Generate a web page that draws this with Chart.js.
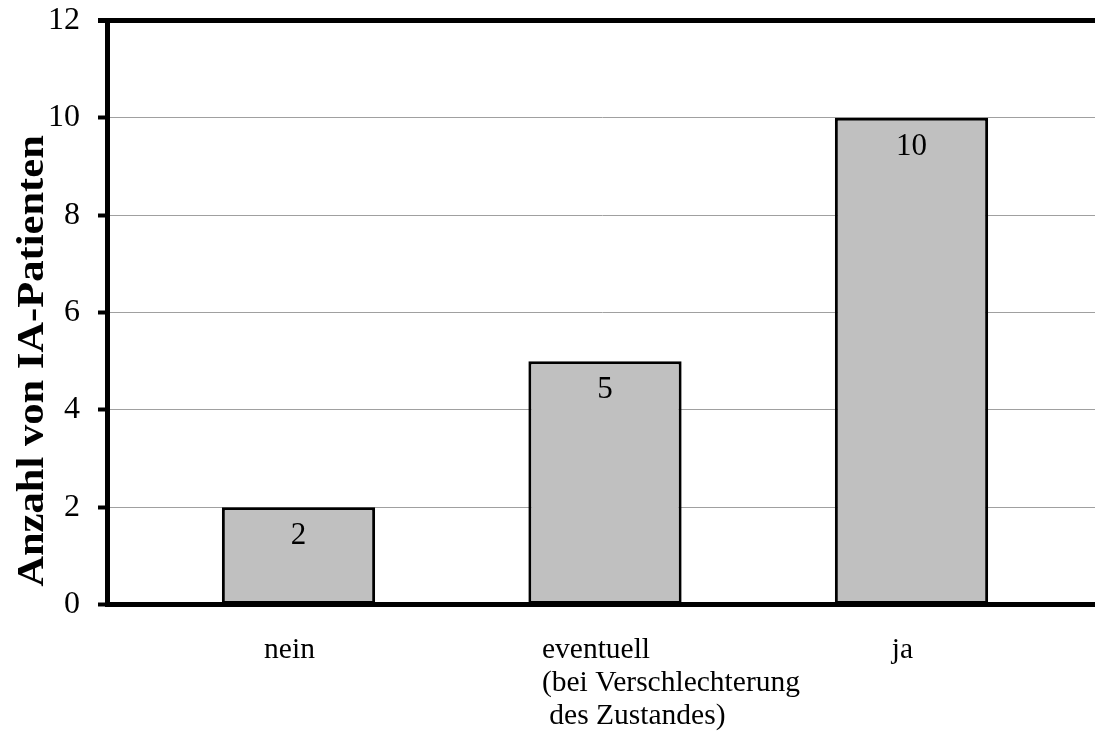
<!DOCTYPE html>
<html>
<head>
<meta charset="utf-8">
<script src="https://cdn.jsdelivr.net/npm/chart.js@4.4.1/dist/chart.umd.min.js"></script>
<style>
  html, body { margin: 0; padding: 0; background: #fff; overflow: hidden; }
  #wrap { width: 1095px; height: 731px; }
</style>
</head>
<body>
<div id="wrap"><canvas id="c" width="1095" height="731"></canvas></div>
<script>
// Category labels (one entry per line of text)
const categories = [
  ['nein'],
  ['eventuell', '(bei Verschlechterung', ' des Zustandes)'],
  ['ja']
];
// Number of patients per answer
const patientCounts = [2, 5, 10];
// Value axis ticks
const yTicks = [0, 2, 4, 6, 8, 10, 12];
const yTitle = 'Anzahl von IA-Patienten';

const FONT = "'Liberation Serif', 'Times New Roman', Times, serif";

const points = patientCounts.map((v, i) => ({ x: i, y: v }));

// Number printed just below the top edge of every bar
const barValueLabels = {
  id: 'barValueLabels',
  afterDatasetsDraw(chart) {
    const { ctx } = chart;
    const meta = chart.getDatasetMeta(0);
    ctx.save();
    ctx.font = `31px ${FONT}`;
    ctx.fillStyle = '#000';
    ctx.textAlign = 'center';
    ctx.textBaseline = 'middle';
    meta.data.forEach((bar, i) => {
      ctx.fillText(String(patientCounts[i]), bar.x, bar.y + 29);
    });
    ctx.restore();
  }
};

// Category names under the axis; extra lines are left-aligned to the first one
const categoryLabels = {
  id: 'categoryLabels',
  afterDraw(chart) {
    const { ctx, chartArea } = chart;
    const xs = chart.scales.x;
    ctx.save();
    ctx.font = `29.5px ${FONT}`;
    ctx.fillStyle = '#000';
    ctx.textAlign = 'left';
    ctx.textBaseline = 'alphabetic';
    categories.forEach((lines, i) => {
      const cx = xs.getPixelForValue(i) - 9;
      const left = cx - ctx.measureText(lines[0]).width / 2;
      lines.forEach((line, k) => {
        ctx.fillText(line, left, chartArea.bottom + 53.5 + k * 33);
      });
    });
    ctx.restore();
  }
};

// Rotated title of the value axis
const valueAxisTitle = {
  id: 'valueAxisTitle',
  afterDraw(chart) {
    const { ctx } = chart;
    ctx.save();
    ctx.translate(33, 361);
    ctx.rotate(-Math.PI / 2);
    ctx.scale(1.12, 1);
    ctx.font = `bold 38px ${FONT}`;
    ctx.fillStyle = '#000';
    ctx.textAlign = 'center';
    ctx.textBaseline = 'middle';
    ctx.fillText(yTitle, 0, 0);
    ctx.restore();
  }
};

new Chart(document.getElementById('c'), {
  type: 'bar',
  data: {
    datasets: [{
      data: points,
      backgroundColor: '#c0c0c0',
      borderColor: '#000',
      borderWidth: 3,
      borderSkipped: false,
      categoryPercentage: 1,
      barPercentage: 0.5
    }]
  },
  options: {
    responsive: false,
    animation: false,
    devicePixelRatio: 1,
    layout: { padding: { top: 20.5, right: 0, bottom: 0, left: 0 } },
    plugins: {
      legend: { display: false },
      tooltip: { enabled: false }
    },
    scales: {
      x: {
        type: 'linear',
        offset: false,
        min: -0.6248,
        max: 2.5987,
        afterBuildTicks(scale) {
          scale.ticks = categories.map((_, i) => ({ value: i }));
        },
        afterFit(scale) {
          scale.height = 126.5;
          scale.paddingLeft = 0;
          scale.paddingRight = 0;
        },
        ticks: { display: false },
        grid: { display: false },
        border: { display: true, color: '#000', width: 5 }
      },
      y: {
        min: 0,
        max: 12,
        afterBuildTicks(scale) {
          scale.ticks = yTicks.map(v => ({ value: v }));
        },
        afterFit(scale) {
          scale.width = 107;
          scale.paddingTop = 0;
          scale.paddingBottom = 0;
        },
        ticks: {
          color: '#000',
          padding: 18,
          font: { family: FONT, size: 32 }
        },
        grid: {
          color: ctx => (ctx.tick && ctx.tick.value === 12 ? '#000' : '#a0a0a0'),
          lineWidth: ctx => (ctx.tick && ctx.tick.value === 12 ? 5 : 1),
          tickColor: '#000',
          tickWidth: ctx => (ctx.tick && ctx.tick.value === 12 ? 5 : 4),
          tickLength: 9,
          drawTicks: true
        },
        border: { display: true, color: '#000', width: 5 }
      }
    }
  },
  plugins: [barValueLabels, categoryLabels, valueAxisTitle]
});
</script>
</body>
</html>
